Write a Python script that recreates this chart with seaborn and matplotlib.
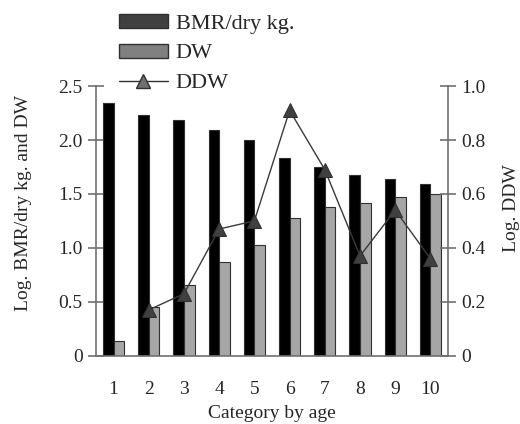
import numpy as np
import pandas as pd
import matplotlib
matplotlib.use("Agg")
import matplotlib.pyplot as plt
import seaborn as sns
from matplotlib.patches import Patch
from matplotlib.lines import Line2D

# data
categories = [1, 2, 3, 4, 5, 6, 7, 8, 9, 10]
bmr = [2.34, 2.23, 2.19, 2.09, 2.00, 1.83, 1.75, 1.68, 1.64, 1.59]
dw = [0.14, 0.45, 0.66, 0.87, 1.03, 1.28, 1.38, 1.42, 1.47, 1.50]
ddw_categories = [2, 3, 4, 5, 6, 7, 8, 9, 10]
ddw = [0.17, 0.23, 0.47, 0.50, 0.91, 0.69, 0.37, 0.54, 0.36]

left_ticks = [0, 0.5, 1.0, 1.5, 2.0, 2.5]
left_labels = ["0", "0.5", "1.0", "1.5", "2.0", "2.5"]
right_ticks = [0, 0.2, 0.4, 0.6, 0.8, 1.0]
right_labels = ["0", "0.2", "0.4", "0.6", "0.8", "1.0"]

sns.set_style("white")
plt.rcParams["font.family"] = ["Liberation Serif", "DejaVu Serif"]
plt.rcParams["font.size"] = 14

bars = pd.DataFrame({
    "category": categories * 2,
    "value": bmr + dw,
    "series": ["BMR/dry kg."] * len(bmr) + ["DW"] * len(dw),
})
line = pd.DataFrame({
    "pos": [categories.index(c) for c in ddw_categories],
    "value": ddw,
})

fig = plt.figure(figsize=(5.2, 4.24), dpi=100)
ax = fig.add_axes([0.1846, 0.161, 0.677, 0.636])

sns.barplot(data=bars, x="category", y="value", hue="series",
            palette=["#000000", "#a6a6a6"], width=0.6, gap=0,
            edgecolor="#303030", linewidth=0.8, ax=ax, legend=False)

ax2 = ax.twinx()
sns.lineplot(data=line, x="pos", y="value", ax=ax2, color="#3a3a3a",
             linewidth=1.0, marker="^", markersize=10,
             markerfacecolor="#404040", markeredgecolor="#303030")

spine_col = "#707070"
ax.set_xlim(-0.5, len(categories) - 0.5)
ax.set_ylim(0, 2.5)
ax2.set_ylim(0, 1.0)
ax.set_yticks(left_ticks)
ax.set_yticklabels(left_labels)
ax2.set_yticks(right_ticks)
ax2.set_yticklabels(right_labels)

ax.set_xticks(range(len(categories)))
ax.set_xticklabels([str(c) for c in categories])
ax.set_xticks(np.arange(-0.5, len(categories), 1.0), minor=True)
ax.tick_params(axis="x", which="major", length=0, pad=18)
ax.tick_params(axis="x", which="minor", direction="inout", length=11,
               width=1.2, color=spine_col)
ax.tick_params(axis="y", direction="inout", length=11, width=1.2,
               color=spine_col, pad=4)
ax2.tick_params(axis="y", direction="inout", length=11, width=1.2,
                color=spine_col, pad=4)

for a in (ax, ax2):
    a.spines["top"].set_visible(False)
    for s in ("left", "right", "bottom"):
        a.spines[s].set_color(spine_col)
        a.spines[s].set_linewidth(1.2)
ax.spines["right"].set_visible(False)
ax2.spines["left"].set_visible(False)
ax2.spines["bottom"].set_visible(False)

ax.set_xlabel("Category by age", fontsize=14, labelpad=5)
ax.set_ylabel("Log. BMR/dry kg. and DW", fontsize=14)
ax.yaxis.set_label_coords(-0.182, 0.566)
ax2.set_ylabel("Log. DDW", fontsize=14)
ax2.yaxis.set_label_coords(1.156, 0.548)

handles = [
    Patch(facecolor="#404040", edgecolor="#303030", label="BMR/dry kg."),
    Patch(facecolor="#808080", edgecolor="#303030", label="DW"),
    Line2D([0], [0], color="#303030", linewidth=1.0, marker="^",
           markersize=10, markerfacecolor="#707070",
           markeredgecolor="#303030", label="DDW"),
]
fig.legend(handles=handles, loc="upper left", bbox_to_anchor=(0.19, 1.015),
           frameon=False, fontsize=16, handlelength=2.2, handleheight=0.6,
           handletextpad=0.36, labelspacing=0.45)

fig.savefig("out.png", dpi=100)
